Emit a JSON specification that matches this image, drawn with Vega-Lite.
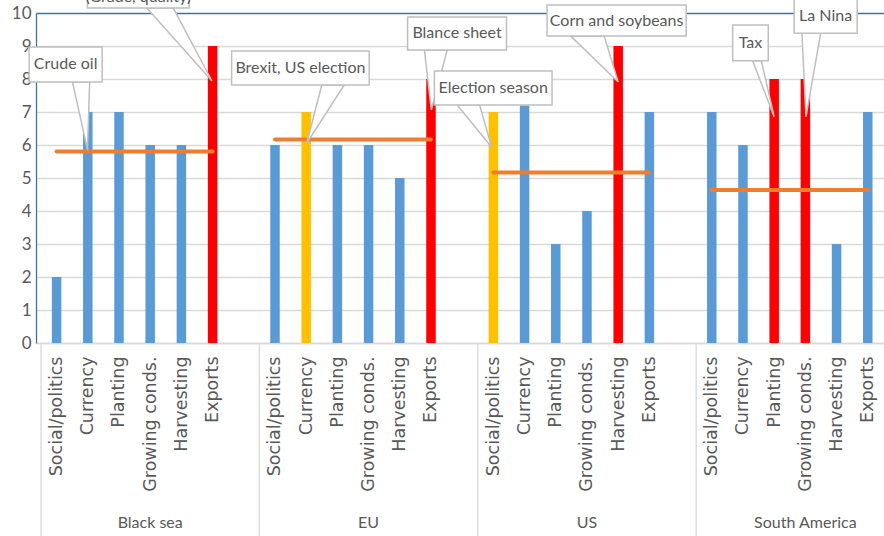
{
  "$schema": "https://vega.github.io/schema/vega-lite/v6.json",
  "width": 848,
  "height": 330,
  "autosize": {"type": "none"},
  "padding": {"left": 36, "top": 13, "right": 0, "bottom": 193},
  "background": "white",
  "config": {"view": {"stroke": null}, "font": "Lato"},
  "resolve": {"axis": {"x": "independent", "y": "independent"}},
  "datasets": {
    "bars": [
      {"region": "Black sea", "factor": "Social/politics", "slot": 0, "score": 2, "status": "normal"},
      {"region": "Black sea", "factor": "Currency", "slot": 1, "score": 7, "status": "normal"},
      {"region": "Black sea", "factor": "Planting", "slot": 2, "score": 7, "status": "normal"},
      {"region": "Black sea", "factor": "Growing conds.", "slot": 3, "score": 6, "status": "normal"},
      {"region": "Black sea", "factor": "Harvesting", "slot": 4, "score": 6, "status": "normal"},
      {"region": "Black sea", "factor": "Exports", "slot": 5, "score": 9, "status": "alert"},
      {"region": "EU", "factor": "Social/politics", "slot": 7, "score": 6, "status": "normal"},
      {"region": "EU", "factor": "Currency", "slot": 8, "score": 7, "status": "watch"},
      {"region": "EU", "factor": "Planting", "slot": 9, "score": 6, "status": "normal"},
      {"region": "EU", "factor": "Growing conds.", "slot": 10, "score": 6, "status": "normal"},
      {"region": "EU", "factor": "Harvesting", "slot": 11, "score": 5, "status": "normal"},
      {"region": "EU", "factor": "Exports", "slot": 12, "score": 8, "status": "alert"},
      {"region": "US", "factor": "Social/politics", "slot": 14, "score": 7, "status": "watch"},
      {"region": "US", "factor": "Currency", "slot": 15, "score": 7.2, "status": "normal"},
      {"region": "US", "factor": "Planting", "slot": 16, "score": 3, "status": "normal"},
      {"region": "US", "factor": "Growing conds.", "slot": 17, "score": 4, "status": "normal"},
      {"region": "US", "factor": "Harvesting", "slot": 18, "score": 9, "status": "alert"},
      {"region": "US", "factor": "Exports", "slot": 19, "score": 7, "status": "normal"},
      {"region": "South America", "factor": "Social/politics", "slot": 21, "score": 7, "status": "normal"},
      {"region": "South America", "factor": "Currency", "slot": 22, "score": 6, "status": "normal"},
      {"region": "South America", "factor": "Planting", "slot": 23, "score": 8, "status": "alert"},
      {"region": "South America", "factor": "Growing conds.", "slot": 24, "score": 8, "status": "alert"},
      {"region": "South America", "factor": "Harvesting", "slot": 25, "score": 3, "status": "normal"},
      {"region": "South America", "factor": "Exports", "slot": 26, "score": 7, "status": "normal"}
    ],
    "levels": [
      {"region": "Black sea", "level": 5.8, "first": 0, "last": 5},
      {"region": "EU", "level": 6.17, "first": 7, "last": 12},
      {"region": "US", "level": 5.17, "first": 14, "last": 19},
      {"region": "South America", "level": 4.64, "first": 21, "last": 26}
    ],
    "groups": [
      {"region": "Black sea", "start": -0.5, "center": 3},
      {"region": "EU", "start": 6.5, "center": 10},
      {"region": "US", "start": 13.5, "center": 17},
      {"region": "South America", "start": 20.5, "center": 24}
    ],
    "callouts": [
      {"id": 1, "label": "Crude oil", "bx1": -0.88, "bx2": 1.46, "by1": 8.97, "by2": 7.91},
      {"id": 2, "label": "(Grade, quality)", "bx1": 0.99, "bx2": 4.25, "by1": 10.8, "by2": 10.15},
      {"id": 3, "label": "Brexit, US election", "bx1": 5.61, "bx2": 10.02, "by1": 8.85, "by2": 7.82},
      {"id": 4, "label": "Blance sheet", "bx1": 11.25, "bx2": 14.42, "by1": 9.88, "by2": 8.88},
      {"id": 5, "label": "Election season", "bx1": 12.11, "bx2": 15.88, "by1": 8.24, "by2": 7.21},
      {"id": 6, "label": "Corn and soybeans", "bx1": 15.72, "bx2": 20.18, "by1": 10.24, "by2": 9.3},
      {"id": 7, "label": "Tax", "bx1": 21.67, "bx2": 22.81, "by1": 9.64, "by2": 8.55},
      {"id": 8, "label": "La Nina", "bx1": 23.64, "bx2": 25.66, "by1": 10.45, "by2": 9.39}
    ],
    "pointers": [
      {"id": 1, "py": 7.91, "pxa": 0.51, "pxb": 1.06},
      {"id": 1, "py": 5.85, "pxa": 0.99, "pxb": 0.99},
      {"id": 2, "py": 10.15, "pxa": 2.89, "pxb": 3.74},
      {"id": 2, "py": 7.94, "pxa": 4.98, "pxb": 4.98},
      {"id": 3, "py": 7.82, "pxa": 8.5, "pxb": 9.22},
      {"id": 3, "py": 6.06, "pxa": 8.02, "pxb": 8.02},
      {"id": 4, "py": 8.88, "pxa": 11.79, "pxb": 12.52},
      {"id": 4, "py": 7.06, "pxa": 12.01, "pxb": 12.01},
      {"id": 5, "py": 7.21, "pxa": 12.84, "pxb": 13.56},
      {"id": 5, "py": 5.94, "pxa": 13.94, "pxb": 13.94},
      {"id": 6, "py": 9.3, "pxa": 16.48, "pxb": 17.55},
      {"id": 6, "py": 7.91, "pxa": 18.0, "pxb": 18.0},
      {"id": 7, "py": 8.55, "pxa": 22.31, "pxb": 22.59},
      {"id": 7, "py": 6.85, "pxa": 23.0, "pxb": 23.0},
      {"id": 8, "py": 9.39, "pxa": 23.89, "pxb": 24.49},
      {"id": 8, "py": 6.85, "pxa": 24.02, "pxb": 24.02}
    ]
  },
  "layer": [
    {
      "data": {"name": "bars"},
      "mark": {"type": "bar", "width": 9.5, "orient": "vertical"},
      "encoding": {
        "x": {
          "field": "slot", "type": "quantitative", "title": null,
          "scale": {"type": "linear", "domain": [-0.5, 26.36], "nice": false, "zero": false},
          "axis": {
            "title": null,
            "values": [0, 1, 2, 3, 4, 5, 7, 8, 9, 10, 11, 12, 14, 15, 16, 17, 18, 19, 21, 22, 23, 24, 25, 26],
            "labelExpr": "['Social/politics','Currency','Planting','Growing conds.','Harvesting','Exports'][datum.value % 7]",
            "labelAngle": -90,
            "ticks": false,
            "grid": false,
            "domainColor": "#D9D9D9",
            "domainWidth": 1.5,
            "labelPadding": 13,
            "labelFont": "DejaVu Sans",
            "labelFontSize": 17.5,
            "labelColor": "#595959",
            "labelFlush": false,
            "labelOverlap": false,
            "labelBound": false
          }
        },
        "y": {
          "field": "score", "type": "quantitative", "title": null,
          "scale": {"domain": [0, 10], "nice": false, "zero": false},
          "axis": {
            "title": null,
            "values": [0, 1, 2, 3, 4, 5, 6, 7, 8, 9, 10],
            "ticks": false,
            "grid": true,
            "gridColor": {"condition": {"test": "datum.value === 10", "value": "#41719C"}, "value": "#D9D9D9"},
            "gridWidth": 1.3,
            "domainColor": "#41719C",
            "domainWidth": 1.3,
            "labelFontSize": 17,
            "labelColor": "#595959",
            "labelPadding": 5,
            "labelFlush": false,
            "labelOverlap": false
          }
        },
        "color": {
          "field": "status", "type": "nominal",
          "scale": {"domain": ["normal", "watch", "alert"], "range": ["#5B9BD5", "#FFC000", "#FF0000"]},
          "legend": null
        }
      }
    },
    {
      "data": {"name": "levels"},
      "mark": {"type": "rule", "color": "#ED7D31", "strokeWidth": 4, "strokeCap": "round"},
      "encoding": {
        "x": {"field": "first", "type": "quantitative", "axis": null},
        "x2": {"field": "last"},
        "y": {"field": "level", "type": "quantitative", "axis": null}
      }
    },
    {
      "data": {"name": "pointers"},
      "mark": {"type": "area", "orient": "horizontal", "fill": "white", "stroke": "#BFBFBF", "strokeWidth": 1.5},
      "encoding": {
        "y": {"field": "py", "type": "quantitative", "axis": null},
        "x": {"field": "pxa", "type": "quantitative", "stack": null, "axis": null},
        "x2": {"field": "pxb"},
        "detail": {"field": "id", "type": "nominal"}
      }
    },
    {
      "data": {"name": "callouts"},
      "mark": {"type": "rect", "fill": "white", "stroke": "#BFBFBF", "strokeWidth": 1.5},
      "encoding": {
        "x": {"field": "bx1", "type": "quantitative", "axis": null},
        "x2": {"field": "bx2"},
        "y": {"field": "by1", "type": "quantitative", "axis": null},
        "y2": {"field": "by2"}
      }
    },
    {
      "data": {"name": "callouts"},
      "transform": [
        {"calculate": "(datum.bx1 + datum.bx2) / 2", "as": "tx"},
        {"calculate": "(datum.by1 + datum.by2) / 2", "as": "ty"}
      ],
      "mark": {"type": "text", "fontSize": 16, "color": "#595959", "baseline": "middle", "align": "center"},
      "encoding": {
        "x": {"field": "tx", "type": "quantitative", "axis": null},
        "y": {"field": "ty", "type": "quantitative", "axis": null},
        "text": {"field": "label"}
      }
    },
    {
      "data": {"name": "groups"},
      "mark": {"type": "rule", "color": "#D9D9D9", "strokeWidth": 1.3},
      "encoding": {
        "x": {"field": "start", "type": "quantitative", "axis": null},
        "y": {"datum": 0, "type": "quantitative", "axis": null},
        "y2": {"datum": -6}
      }
    },
    {
      "data": {"name": "groups"},
      "mark": {"type": "text", "fontSize": 16, "color": "#595959", "baseline": "middle", "align": "center"},
      "encoding": {
        "x": {"field": "center", "type": "quantitative", "axis": null},
        "y": {"datum": -5.45, "type": "quantitative", "axis": null},
        "text": {"field": "region"}
      }
    }
  ]
}
